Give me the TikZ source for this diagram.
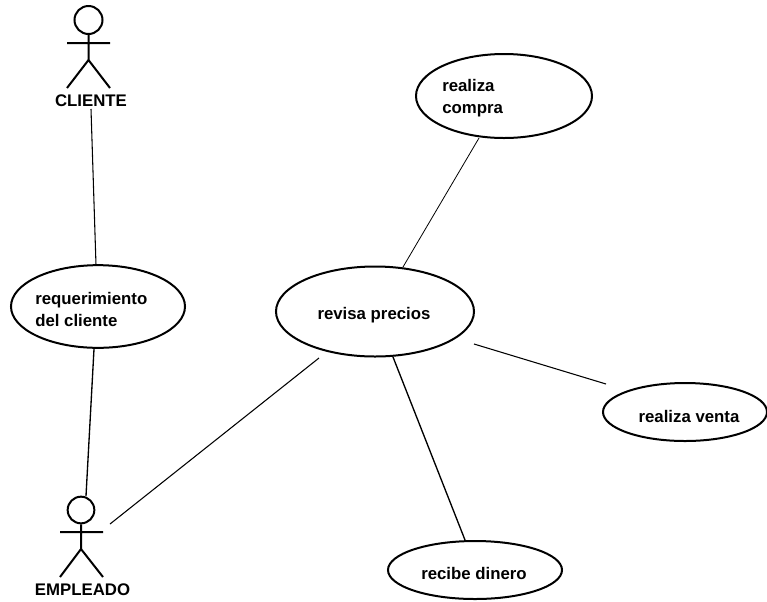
\documentclass[tikz,border=0pt]{standalone}
\usepackage{fontspec}
\setmainfont{Liberation Sans}
\usetikzlibrary{shapes.geometric}
\tikzset{
 uc/.style={draw,ellipse,line width=1.5pt,inner sep=0pt},
 lbl/.style={font=\bfseries\fontsize{12.6pt}{16.5pt}\selectfont,inner sep=0pt},
 link/.style={line width=0.8pt},
 actor/.style={line width=1.5pt}
}
\begin{document}
\begin{tikzpicture}[x=0.75pt,y=-0.75pt]
\useasboundingbox (0,0) rectangle (767,601);
% use cases
\node[uc,minimum width=132pt,minimum height=63pt] (compra) at (504,96) {};
\node[lbl,align=left,anchor=west] (tcompra) at (442,98) {realiza\\compra};
\node[uc,minimum width=148.5pt,minimum height=67.5pt] (revisa) at (375,311.5) {};
\node[lbl] (trevisa) at (374,315) {revisa precios};
\node[uc,minimum width=130.5pt,minimum height=62pt] (req) at (98,306.5) {};
\node[lbl,align=left,anchor=west] (treq) at (35,309) {requerimiento\\del cliente};
\node[uc,minimum width=123pt,minimum height=43.5pt] (venta) at (685,412) {};
\node[lbl] (tventa) at (689,416) {realiza venta};
\node[uc,minimum width=130.5pt,minimum height=43.5pt] (dinero) at (475,570) {};
\node[lbl] (tdinero) at (474,573) {recibe dinero};
% actor cliente
\node[draw,circle,actor,minimum size=21pt,inner sep=0pt] (h1) at (88.5,20) {};
\coordinate (b1) at (88.5,60);
\coordinate (a1l) at (67,43); \coordinate (a1r) at (110,43);
\coordinate (l1l) at (67,88); \coordinate (l1r) at (110,88);
\draw[actor] (h1) -- (b1) (a1l) -- (a1r) (b1) -- (l1l) (b1) -- (l1r);
\node[lbl] (cliente) at (91,101) {CLIENTE};
% actor empleado
\node[draw,circle,actor,minimum size=20pt,inner sep=0pt] (h2) at (81,510) {};
\coordinate (b2) at (81,549);
\coordinate (a2l) at (60,532); \coordinate (a2r) at (103,532);
\coordinate (l2l) at (60,577); \coordinate (l2r) at (103,577);
\draw[actor] (h2) -- (b2) (a2l) -- (a2r) (b2) -- (l2l) (b2) -- (l2r);
\node[lbl] (empleado) at (82.5,590) {EMPLEADO};
% connectors
\coordinate (p1) at (91,109); \coordinate (p2) at (96,265);
\draw[link] (p1) -- (p2);
\coordinate (p3) at (94,349); \coordinate (p4) at (86,496);
\draw[line width=1pt] (p3) -- (p4);
\coordinate (p5) at (110,524); \coordinate (p6) at (319,358);
\draw[link] (p5) -- (p6);
\coordinate (p7) at (403,267); \coordinate (p8) at (479,138);
\draw[line width=.6pt] (p7) -- (p8);
\coordinate (p9) at (474,344); \coordinate (p10) at (606,384);
\draw[link] (p9) -- (p10);
\coordinate (p11) at (393,357); \coordinate (p12) at (465,540);
\draw[line width=1pt] (p11) -- (p12);
\end{tikzpicture}
\end{document}
